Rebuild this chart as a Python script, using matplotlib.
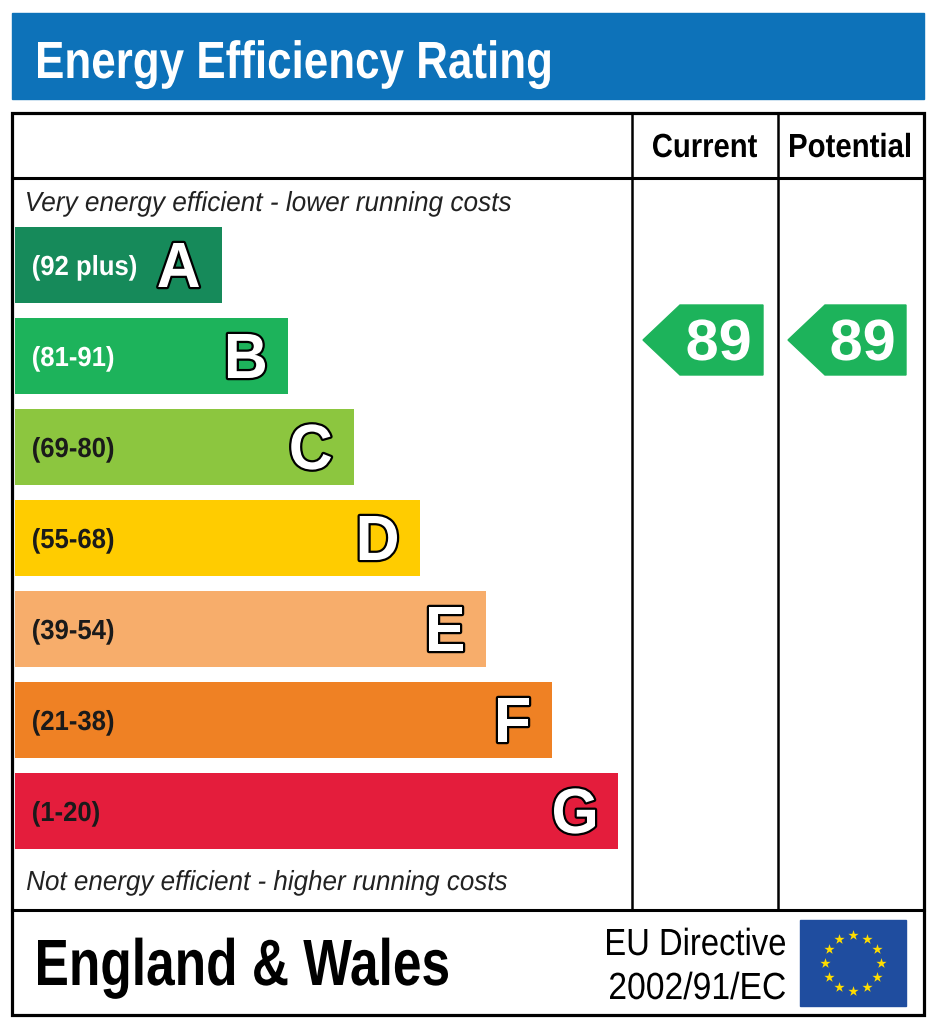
import matplotlib
matplotlib.use("Agg")
import matplotlib.pyplot as plt
from matplotlib.patches import Rectangle, Polygon, PathPatch
from matplotlib.textpath import TextPath
from matplotlib.font_manager import FontProperties
from matplotlib.transforms import Affine2D
import numpy as np

# datos del grafico
bands = ["A", "B", "C", "D", "E", "F", "G"]
ranges = ["(92 plus)", "(81-91)", "(69-80)", "(55-68)", "(39-54)", "(21-38)", "(1-20)"]
band_min = [92, 81, 69, 55, 39, 21, 1]
band_colors = ["#168a5a", "#1db35b", "#8cc63f", "#ffcc00", "#f7ad6b", "#ef8124", "#e41d3c"]
label_colors = ["white", "white", "#1a1a1a", "#1a1a1a", "#1a1a1a", "#1a1a1a", "#1a1a1a"]
current = 89
potential = 89
arrow_color = "#1db35b"

title = "Energy Efficiency Rating"
top_note = "Very energy efficient - lower running costs"
bottom_note = "Not energy efficient - higher running costs"
region = "England & Wales"
directive = ["EU Directive", "2002/91/EC"]

fig = plt.figure(figsize=(9.33, 10.24), dpi=100)
ax = fig.add_axes([0, 0, 1, 1])
ax.set_xlim(0, 933)
ax.set_ylim(1024, 0)
ax.axis("off")


# texto estrecho: se dibuja como path y se comprime en horizontal
def ntext(x, base, s, cap, width=None, sx=0.82, ha="left", weight="normal",
          style="normal", color="black", outline=None, z=6):
    fp = FontProperties(family="Liberation Sans", weight=weight, style=style)
    capref = TextPath((0, 0), "H", size=100, prop=fp).get_extents().height
    k = cap / capref
    path = TextPath((0, 0), s, size=100, prop=fp)
    bb = path.get_extents()
    if width is not None:
        sx = width / (bb.width * k)
    if ha == "left":
        x0 = x - bb.x0 * k * sx
    elif ha == "right":
        x0 = x - bb.x1 * k * sx
    else:
        x0 = x - (bb.x0 + bb.x1) / 2 * k * sx
    tr = Affine2D().scale(k * sx, -k).translate(x0, base) + ax.transData
    if outline:
        ax.add_patch(PathPatch(path, fc="none", ec=outline, lw=3.2,
                               transform=tr, zorder=z, joinstyle="round"))
    ax.add_patch(PathPatch(path, fc=color, ec="none", lw=0, transform=tr, zorder=z + 0.1))


# cabecera azul
ax.add_patch(Rectangle((12, 13), 912, 86, color="#0d72b9", zorder=1))
ntext(38, 78, title, 36, width=512, weight="bold", color="white")

# marco
ax.add_patch(Rectangle((12, 113), 912, 902, fill=False, ec="black", lw=2.3, zorder=5))
ax.plot([12, 924], [178, 178], color="black", lw=2.2, zorder=5)
ax.plot([12, 924], [910, 910], color="black", lw=2.2, zorder=5)
ax.plot([632, 632], [113, 910], color="black", lw=1.8, zorder=5)
ax.plot([778, 778], [113, 910], color="black", lw=1.8, zorder=5)

ntext(705, 157, "Current", 23, width=104, ha="center", weight="bold")
ntext(850, 157, "Potential", 23, width=120, ha="center", weight="bold")

ntext(27, 211, top_note, 19, width=484, style="italic", color="#222222")
ntext(27, 890, bottom_note, 19, width=480, style="italic", color="#222222")

# barras
row_top = 227
row_step = 91
bar_h = 76
widths = [207 + 66 * i for i in range(len(bands))]
centers = [row_top + row_step * i + bar_h / 2 for i in range(len(bands))]
ax.barh(centers, widths, height=bar_h, left=15, color=band_colors, zorder=2)
for i, b in enumerate(bands):
    yc = centers[i]
    ntext(33, yc + 10, ranges[i], 19, sx=0.93, weight="bold",
          color=label_colors[i], z=3)
    ntext(15 + widths[i] - 23, yc + 22, b, 44, sx=0.95, ha="right",
          weight="bold", color="white", outline="black", z=3)


def rating_arrow(value, x0, x1):
    idx = next(i for i, m in enumerate(band_min) if value >= m)
    yc = centers[idx] - 16
    h = 70
    tip = 37
    pts = [(x0, yc), (x0 + tip, yc - h / 2), (x1, yc - h / 2),
           (x1, yc + h / 2), (x0 + tip, yc + h / 2)]
    ax.add_patch(Polygon(pts, closed=True, color=arrow_color, zorder=3))
    ntext((x0 + tip + x1) / 2 - 3, yc + 20, str(value), 40, width=62,
          ha="center", weight="bold", color="white", z=4)


rating_arrow(current, 643, 763)
rating_arrow(potential, 788, 906)

# pie
ntext(38, 985, region, 45, width=410, weight="bold")
ntext(785, 955, directive[0], 26, width=178, ha="right")
ntext(785, 999, directive[1], 26, width=175, ha="right")

# bandera UE
ax.add_patch(Rectangle((800, 920), 106, 86, color="#1f4d9f", zorder=3))
ang = np.linspace(0, 2 * np.pi, 13)[:-1]
ax.scatter(853 + 28 * np.cos(ang), 963 + 28 * np.sin(ang), marker="*", s=60,
           color="#ffdd00", zorder=4, linewidths=0)

fig.savefig("out.png", dpi=100)
